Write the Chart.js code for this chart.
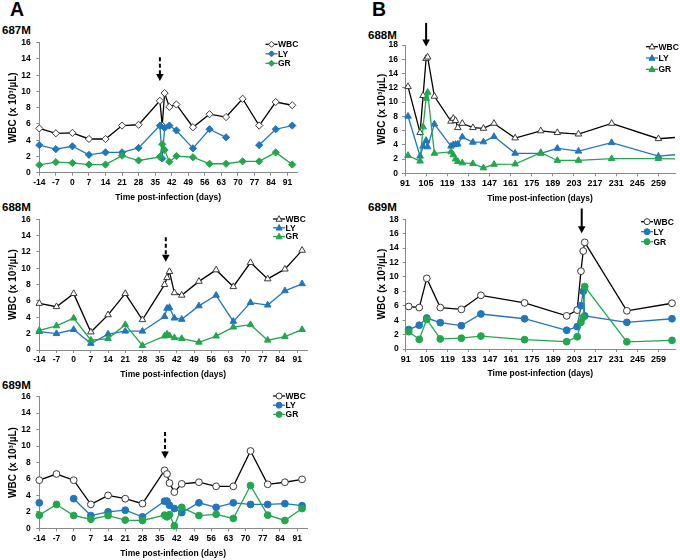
<!DOCTYPE html>
<html>
<head>
<meta charset="utf-8">
<script src="https://cdn.jsdelivr.net/npm/chart.js@4.4.1/dist/chart.umd.min.js"></script>
<style>
  html, body { margin: 0; padding: 0; background: #fff; }
  body { width: 680px; height: 560px; position: relative; overflow: hidden; font-family: "Liberation Sans", Arial, sans-serif; }
  canvas { position: absolute; }
  .lbl { position: absolute; font-weight: bold; color: #000; white-space: nowrap; }
  .big { font-size: 19.5px; line-height: 19.5px; }
  .name { font-size: 11.5px; line-height: 11.5px; }
</style>
</head>
<body>
<div class="lbl big" style="left:10px;top:0px">A</div>
<div class="lbl big" style="left:372px;top:0px">B</div>
<div class="lbl name" style="left:2px;top:25px">687M</div>
<div class="lbl name" style="left:2px;top:201.5px">688M</div>
<div class="lbl name" style="left:2px;top:380px">689M</div>
<div class="lbl name" style="left:368px;top:30px">688M</div>
<div class="lbl name" style="left:368px;top:202px">689M</div>
<canvas id="a1"></canvas>
<canvas id="a2"></canvas>
<canvas id="a3"></canvas>
<canvas id="b1"></canvas>
<canvas id="b2"></canvas>
<script>
// axis ticks
const xTicksA = [-14, -7, 0, 7, 14, 21, 28, 35, 42, 49, 56, 63, 70, 77, 84, 91];
const xTicksB = [91, 105, 119, 133, 147, 161, 175, 189, 203, 217, 231, 245, 259];
const yTicksA = [0, 2, 4, 6, 8, 10, 12, 14, 16];
const yTicksB = [0, 2, 4, 6, 8, 10, 12, 14, 16, 18];

// panel A: days -14..93
const daysA = [-14, -7, 0, 7, 14, 21, 28, 37, 38, 39, 41, 44, 51, 58, 65, 72, 79, 86, 93];

const wbc687 = [5.45, 4.85, 4.9, 4.15, 4.15, 5.8, 5.9, 8.85, 5.8, 9.8, 8.1, 8.4, 5.6, 7.2, 6.85, 9.1, 5.8, 8.7, 8.3];
const ly687 = [3.4, 2.9, 3.25, 2.2, 2.5, 2.5, 3.05, 5.8, 1.75, 5.5, 5.8, 5.2, 3.0, 5.35, 4.35, null, 3.4, 5.35, 5.8];
const gr687 = [0.95, 1.3, 1.2, 1.0, 1.0, 2.1, 1.5, 1.95, 3.5, 2.8, 1.35, 2.05, 1.9, 1.1, 1.1, 1.4, 1.4, 2.5, 1.0];

const wbc688 = [5.7, 5.3, 6.9, 2.2, 4.3, 6.9, 3.7, 8.0, 8.85, 9.6, 7.0, 6.7, 8.4, 9.8, 7.75, 10.7, 8.7, 9.9, 12.2];
const ly688 = [2.25, 2.0, 2.5, 0.8, 1.95, 2.3, 2.3, 4.1, 5.1, 5.2, 3.9, 3.75, 5.4, 6.7, 3.5, 5.8, 5.5, 7.25, 8.1];
const gr688 = [2.4, 2.95, 3.9, 1.2, 1.4, 3.1, 0.55, 1.7, 1.95, 1.75, 1.5, 1.4, 0.95, 1.7, 2.8, 3.1, 1.2, 1.65, 2.5];

const wbc689 = [5.85, 6.6, 5.85, 2.9, 4.0, 3.6, 3.0, 7.05, 6.6, 5.5, 4.4, 5.4, 5.6, 5.1, 5.1, 9.4, 5.35, 5.6, 5.95];
const ly689 = [3.1, null, 3.6, 1.55, 2.0, 2.2, 1.4, 3.3, 3.3, 2.8, 2.4, 1.9, 3.1, 2.55, 3.1, 2.9, 2.9, 3.0, 2.75];
const gr689 = [1.6, 2.9, 1.55, 1.1, 1.55, 1.0, 0.95, 1.6, 1.4, 1.65, 0.3, 2.55, 1.55, 1.7, 1.2, 5.2, 1.6, 0.95, 2.4];

// panel B, 688M (last point lies past the axis end)
const daysB688 = [93, 101, 103, 105, 106, 110.5, 121.5, 123, 124.5, 126, 129, 136, 143, 150, 164, 181, 192, 206, 228, 259, 275];
const wbcB688 = [12.15, 5.7, 10.9, 16.1, 16.3, 10.8, 7.3, 7.7, 7.4, 6.4, 7.0, 6.4, 6.3, 7.0, 4.95, 5.95, 5.7, 5.5, 7.0, 4.85, 5.1];
const lyB688 = [8.0, 2.4, 3.8, 4.6, 3.7, 6.9, 3.8, 4.0, 4.05, 4.1, 5.1, 4.35, 4.4, 5.15, 2.8, 2.8, 3.5, 3.1, 4.3, 2.4, 2.7];
const grB688 = [2.5, 1.7, 6.5, 10.5, 11.35, 2.8, 3.0, 2.6, 2.0, 1.65, 1.45, 1.35, 0.75, 1.25, 1.3, 2.9, 1.8, 1.8, 2.05, 2.05, 2.0];

// panel B, 689M
const daysB689 = [93, 100, 105, 114, 128, 141, 170, 198, 205, 207.5, 209, 210, 238, 268];
const wbcB689 = [5.9, 5.75, 9.8, 5.75, 5.5, 7.45, 6.4, 4.6, 5.4, 10.8, 13.6, 14.8, 5.3, 6.35];
const lyB689 = [2.7, 3.3, 4.3, 3.66, 3.24, 4.86, 4.2, 2.6, 3.1, 6.0, 8.0, 4.6, 3.7, 4.2];
const grB689 = [2.4, 1.34, 4.1, 1.4, 1.5, 1.8, 1.3, 1.02, 1.7, 3.7, 4.4, 8.66, 1.0, 1.2];

const FONT = "'Liberation Sans', Arial, sans-serif";
const BLUE = "#2176bd";
const GREEN = "#22a64e";
const AXIS = "#8a8a8a";

function drawMarker(ctx, style, x, y, r) {
  ctx.beginPath();
  if (style === "circle") {
    ctx.arc(x, y, r, 0, Math.PI * 2);
  } else if (style === "triangle") {
    ctx.moveTo(x, y - r * 1.1);
    ctx.lineTo(x + r, y + r * 0.75);
    ctx.lineTo(x - r, y + r * 0.75);
    ctx.closePath();
  } else {
    ctx.moveTo(x, y - r);
    ctx.lineTo(x + r, y);
    ctx.lineTo(x, y + r);
    ctx.lineTo(x - r, y);
    ctx.closePath();
  }
  ctx.fill();
  ctx.stroke();
}

// arrow + inline legend
const extras = {
  id: "extras",
  afterDatasetsDraw(chart, args, opts) {
    const ctx = chart.ctx;
    const xs = chart.scales.x, ys = chart.scales.y;
    const area = chart.chartArea;
    const a = opts.arrow;
    if (a) {
      const x = xs.getPixelForValue(a.day);
      const y0 = ys.getPixelForValue(a.from);
      const y1 = ys.getPixelForValue(a.to);
      ctx.save();
      ctx.strokeStyle = "#000";
      ctx.fillStyle = "#000";
      ctx.lineWidth = 2;
      if (a.dashed) ctx.setLineDash([4, 2.5]);
      ctx.beginPath();
      ctx.moveTo(x, y0);
      ctx.lineTo(x, y1 - 6);
      ctx.stroke();
      ctx.setLineDash([]);
      ctx.beginPath();
      ctx.moveTo(x - 3.8, y1 - 7);
      ctx.lineTo(x + 3.8, y1 - 7);
      ctx.lineTo(x, y1);
      ctx.closePath();
      ctx.fill();
      ctx.restore();
    }
    const lg = opts.legend;
    if (lg) {
      ctx.save();
      let y = area.top + lg.dy;
      const x0 = area.right + lg.dx;
      chart.data.datasets.forEach(ds => {
        ctx.strokeStyle = ds.borderColor;
        ctx.lineWidth = 1.3;
        ctx.beginPath();
        ctx.moveTo(x0, y);
        ctx.lineTo(x0 + 12, y);
        ctx.stroke();
        ctx.fillStyle = ds.pointBackgroundColor;
        ctx.strokeStyle = ds.pointBorderColor;
        ctx.lineWidth = 1;
        drawMarker(ctx, ds.pointStyle, x0 + 6, y, 3);
        ctx.fillStyle = "#000";
        ctx.font = "bold " + lg.size + "px " + FONT;
        ctx.textBaseline = "middle";
        ctx.textAlign = "left";
        ctx.fillText(ds.label, x0 + 12.5, y + 0.5);
        y += lg.gap;
      });
      ctx.restore();
    }
  }
};

function series(label, days, vals, color, fill, edge, style, radius, order, clip) {
  return {
    label: label,
    data: days.map((d, i) => ({ x: d, y: vals[i] })),
    borderColor: color,
    borderWidth: 1.3,
    pointStyle: style,
    pointRadius: radius,
    pointBackgroundColor: fill,
    pointBorderColor: edge,
    pointBorderWidth: 1,
    spanGaps: false,
    tension: 0,
    order: order,
    clip: clip
  };
}

function makePanel(id, p) {
  const cv = document.getElementById(id);
  const w = Math.ceil(p.right + 3 - p.cl);
  const h = Math.ceil(p.bottom + 33 - p.ct);
  cv.width = w;
  cv.height = h;
  cv.style.left = p.cl + "px";
  cv.style.top = p.ct + "px";
  const clip = p.clip || 8;
  const ds = [
    series("WBC", p.days, p.wbc, "#000", "#fff", "#3a3a3a", p.style, p.radius, 3, clip),
    series("LY", p.days, p.ly, BLUE, BLUE, BLUE, p.style, p.radius, 2, clip),
    series("GR", p.days, p.gr, GREEN, GREEN, GREEN, p.style, p.radius, 1, clip)
  ];
  new Chart(cv, {
    type: "line",
    data: { datasets: ds },
    plugins: [extras],
    options: {
      responsive: false,
      animation: false,
      events: [],
      layout: {
        padding: { left: 0, top: p.top - p.ct, right: p.cl + w - p.right, bottom: p.ct + h - p.bottom - 30 }
      },
      plugins: {
        legend: { display: false },
        tooltip: { enabled: false },
        extras: { arrow: p.arrow, legend: p.legend }
      },
      scales: {
        x: {
          type: "linear",
          min: p.xmin,
          max: p.xmax,
          afterBuildTicks: s => { s.ticks = p.xticks.map(v => ({ value: v })); },
          afterFit: s => { s.height = 30; },
          ticks: { font: { family: FONT, size: p.xsize, weight: "bold" }, color: "#000", padding: 2, maxRotation: 0, autoSkip: false },
          grid: { display: true, drawOnChartArea: false, drawTicks: true, tickLength: 3, color: AXIS },
          border: { display: true, color: AXIS, width: 1 },
          title: { display: true, text: "Time post-infection (days)", color: "#000", font: { family: FONT, size: 8.5, weight: "bold" }, padding: 0 }
        },
        y: {
          min: 0,
          max: p.ymax,
          afterBuildTicks: s => { s.ticks = p.yticks.map(v => ({ value: v })); },
          afterFit: s => { s.width = p.left - p.cl; },
          ticks: { font: { family: FONT, size: 8.5, weight: "bold" }, color: "#000", padding: p.ypad },
          grid: { display: true, drawOnChartArea: false, drawTicks: true, tickLength: 3, color: AXIS },
          border: { display: true, color: AXIS, width: 1 },
          title: { display: true, text: "WBC (x 10³/µL)", color: "#000", font: { family: FONT, size: 10, weight: "bold" }, padding: { top: p.ytitle, bottom: 0 } }
        }
      }
    }
  });
}

makePanel("a1", {
  cl: 0, ct: 28, left: 39.3, top: 42.7, right: 298.8, bottom: 172.7,
  xmin: -14, xmax: 95, ymax: 16, xticks: xTicksA, yticks: yTicksA, xsize: 8.5, ypad: 5.5, ytitle: 7.3,
  days: daysA, wbc: wbc687, ly: ly687, gr: gr687, style: "rectRot", radius: 3.6,
  arrow: { day: 37, from: 14.2, to: 11.3, dashed: true },
  legend: { dx: -31.5, dy: 1.6, gap: 9.5, size: 8.5 }
});
makePanel("a2", {
  cl: 0, ct: 205, left: 39.3, top: 219.3, right: 308.9, bottom: 350,
  xmin: -14, xmax: 95, ymax: 16, xticks: xTicksA, yticks: yTicksA, xsize: 8.5, ypad: 5.5, ytitle: 7.3,
  days: daysA, wbc: wbc688, ly: ly688, gr: gr688, style: "triangle", radius: 3.8,
  arrow: { day: 37.5, from: 13.8, to: 10.8, dashed: true },
  legend: { dx: -33.9, dy: -0.3, gap: 8.8, size: 8.5 }
});
makePanel("a3", {
  cl: 0, ct: 382, left: 39.3, top: 396.7, right: 308.9, bottom: 528.3,
  xmin: -14, xmax: 95, ymax: 16, xticks: xTicksA, yticks: yTicksA, xsize: 8.5, ypad: 5.5, ytitle: 7.3,
  days: daysA, wbc: wbc689, ly: ly689, gr: gr689, style: "circle", radius: 3.4,
  arrow: { day: 37.2, from: 11.7, to: 8.5, dashed: true },
  legend: { dx: -33.9, dy: -0.7, gap: 9.2, size: 8.5 }
});
makePanel("b1", {
  cl: 360, ct: 12, left: 405, top: 45, right: 677, bottom: 173.3,
  xmin: 91, xmax: 270, ymax: 18, xticks: xTicksB, yticks: yTicksB, xsize: 9, ypad: 4, ytitle: 16,
  days: daysB688, wbc: wbcB688, ly: lyB688, gr: grB688, style: "triangle", radius: 3.8,
  clip: { left: 8, top: 8, right: 0, bottom: 8 },
  arrow: { day: 105, from: 21.1, to: 17.8, dashed: false },
  legend: { dx: -29, dy: 1.7, gap: 11.3, size: 8.5 }
});
makePanel("b2", {
  cl: 360, ct: 198, left: 405.7, top: 219.3, right: 677, bottom: 349,
  xmin: 91, xmax: 270, ymax: 18, xticks: xTicksB, yticks: yTicksB, xsize: 9, ypad: 4, ytitle: 16,
  days: daysB689, wbc: wbcB689, ly: lyB689, gr: grB689, style: "circle", radius: 3.4,
  arrow: { day: 208, from: 19.5, to: 16.05, dashed: false },
  legend: { dx: -34, dy: 2.4, gap: 10, size: 8.5 }
});
</script>
</body>
</html>
